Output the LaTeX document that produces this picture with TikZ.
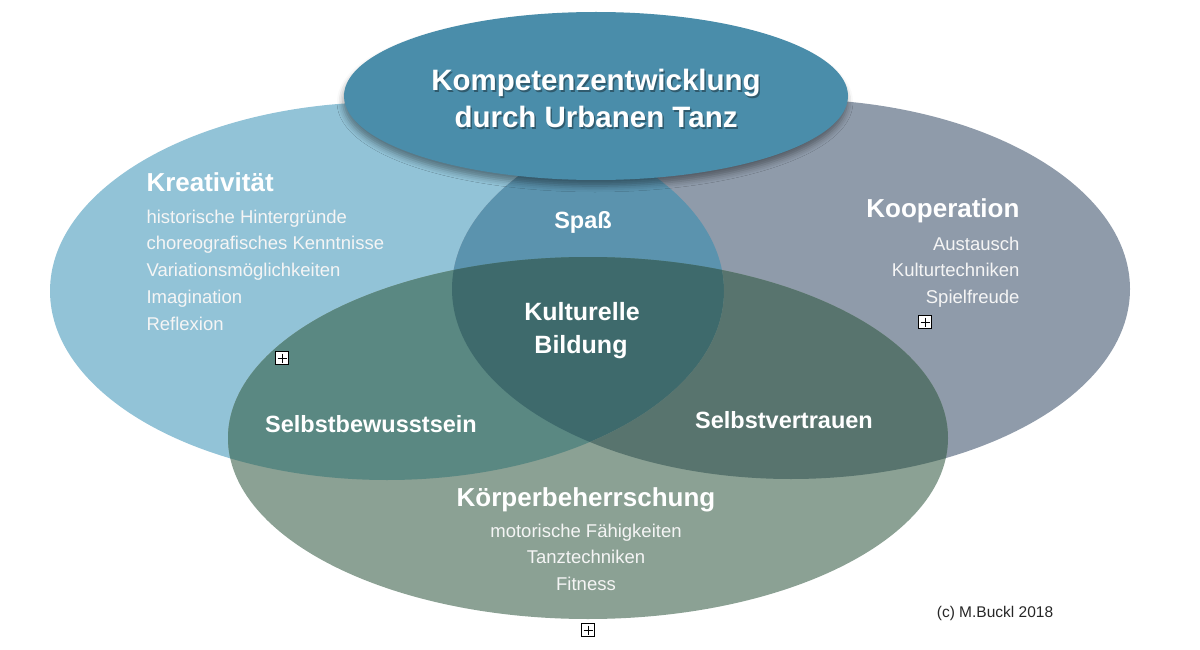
\documentclass[tikz,border=0pt]{standalone}
\usepackage{fontspec}
\setmainfont{Liberation Sans}
\usetikzlibrary{shadows.blur}

% Colours of the single fields and of their overlaps
\definecolor{kreaBlue}{HTML}{92C3D7}
\definecolor{koopGrey}{HTML}{8F9BAA}
\definecolor{koerGreen}{HTML}{8BA194}
\definecolor{kreaKoop}{HTML}{5B93AE}
\definecolor{kreaKoer}{HTML}{5A8882}
\definecolor{koopKoer}{HTML}{58746E}
\definecolor{allThree}{HTML}{3E6A6C}
\definecolor{titleBlue}{HTML}{4A8DAA}

\begin{document}
\begin{tikzpicture}[x=1pt,y=-1pt,
    head/.style={text=white,font=\bfseries\fontsize{26}{30}\selectfont},
    inner/.style={text=white,font=\bfseries\fontsize{23.5}{28}\selectfont},
    item/.style={text=white!92!gray,font=\fontsize{18.5}{22}\selectfont},
    marker/.style={draw=black,fill=white,line width=1pt,minimum size=13pt,inner sep=0pt}]

    \useasboundingbox (0,0) rectangle (1200,650);

    % Define coordinates for the centres of the three big ellipses
    \coordinate (K) at (387,291);
    \coordinate (C) at (791,289);
    \coordinate (B) at (588,438);
    % and for the centre of the title ellipse
    \coordinate (T) at (596,96);

    % Fill the three ellipses
    \fill[kreaBlue] (K) ellipse [x radius=337pt, y radius=189pt];
    \fill[koopGrey] (C) ellipse [x radius=339pt, y radius=190pt];
    \fill[koerGreen] (B) ellipse [x radius=360pt, y radius=181pt];

    % Overlap of Kreativitaet and Kooperation
    \begin{scope}
        \clip (K) ellipse [x radius=337pt, y radius=189pt];
        \fill[kreaKoop] (C) ellipse [x radius=339pt, y radius=190pt];
        \fill[kreaKoer] (B) ellipse [x radius=360pt, y radius=181pt];
        % the middle, where all three meet
        \clip (C) ellipse [x radius=339pt, y radius=190pt];
        \fill[allThree] (B) ellipse [x radius=360pt, y radius=181pt];
    \end{scope}

    % Overlap of Kooperation and Koerperbeherrschung (outside Kreativitaet)
    \begin{scope}
        \clip (C) ellipse [x radius=339pt, y radius=190pt];
        \clip (B) ellipse [x radius=360pt, y radius=181pt];
        \fill[koopKoer, even odd rule] (0,0) rectangle (1200,650)
            (K) ellipse [x radius=337pt, y radius=189pt];
    \end{scope}

    % Title ellipse with its shadow
    \fill[titleBlue, blur shadow={shadow xshift=-1pt, shadow yshift=-6pt,
        shadow blur radius=6pt, shadow opacity=40}]
        (T) ellipse [x radius=252pt, y radius=84pt];

    % Title, with a soft dark shadow behind the letters
    \node[head, text=black, opacity=0.35, font=\bfseries\fontsize{29.5}{34}\selectfont,
        anchor=base] at (597.5,92.5) {Kompetenzentwicklung};
    \node[head, text=black, opacity=0.35, font=\bfseries\fontsize{29.5}{34}\selectfont,
        anchor=base] at (597.5,129.5) {durch Urbanen Tanz};
    \node[head, font=\bfseries\fontsize{29.5}{34}\selectfont, anchor=base]
        (title1) at (596,91) {Kompetenzentwicklung};
    \node[head, font=\bfseries\fontsize{29.5}{34}\selectfont, anchor=base]
        (title2) at (596,128) {durch Urbanen Tanz};

    % Kreativitaet
    \node[head, anchor=base west] (krea) at (143,192) {Kreativität};
    \foreach \txt [count=\i] in {historische Hintergründe, choreografisches Kenntnisse,
        Variationsmöglichkeiten, Imagination, Reflexion}
        \node[item, anchor=base west] (krea\i) at (143,{196.2+26.8*\i}) {\txt};

    % Kooperation
    \node[head, anchor=base east] (koop) at (1023,218) {Kooperation};
    \foreach \txt [count=\i] in {Austausch, Kulturtechniken, Spielfreude}
        \node[item, anchor=base east] (koop\i) at (1023,{223.3+26.7*\i}) {\txt};

    % Koerperbeherrschung
    \node[head, anchor=base] (koer) at (586,506) {Körperbeherrschung};
    \foreach \txt [count=\i] in {motorische Fähigkeiten, Tanztechniken, Fitness}
        \node[item, anchor=base] (koer\i) at (586,{510.5+26.5*\i}) {\txt};

    % Labels of the overlaps
    \node[inner, anchor=base] (spass) at (583,228) {Spaß};
    \node[inner, font=\bfseries\fontsize{25}{30}\selectfont, anchor=base]
        (kultur1) at (582,320) {Kulturelle};
    \node[inner, font=\bfseries\fontsize{25}{30}\selectfont, anchor=base]
        (kultur2) at (581,353) {Bildung};
    \node[inner, anchor=base] (bewusst) at (371,432) {Selbstbewusstsein};
    \node[inner, anchor=base] (vertrauen) at (784,428) {Selbstvertrauen};

    % Small boxed plus signs
    \foreach \name/\pos in {mk1/{(282,358)}, mk2/{(925,322)}, mk3/{(588,630)}} {
        \node[marker] (\name) at \pos {};
        \draw[line width=1pt] ([xshift=2.5pt]\name.west) -- ([xshift=-2.5pt]\name.east);
        \draw[line width=1pt] ([yshift=-2.5pt]\name.north) -- ([yshift=2.5pt]\name.south);
    }

    % Copyright note
    \node[text=black!85, font=\fontsize{15.5}{18}\selectfont, anchor=base]
        (copy) at (995,617) {(c) M.Buckl 2018};

\end{tikzpicture}
\end{document}
